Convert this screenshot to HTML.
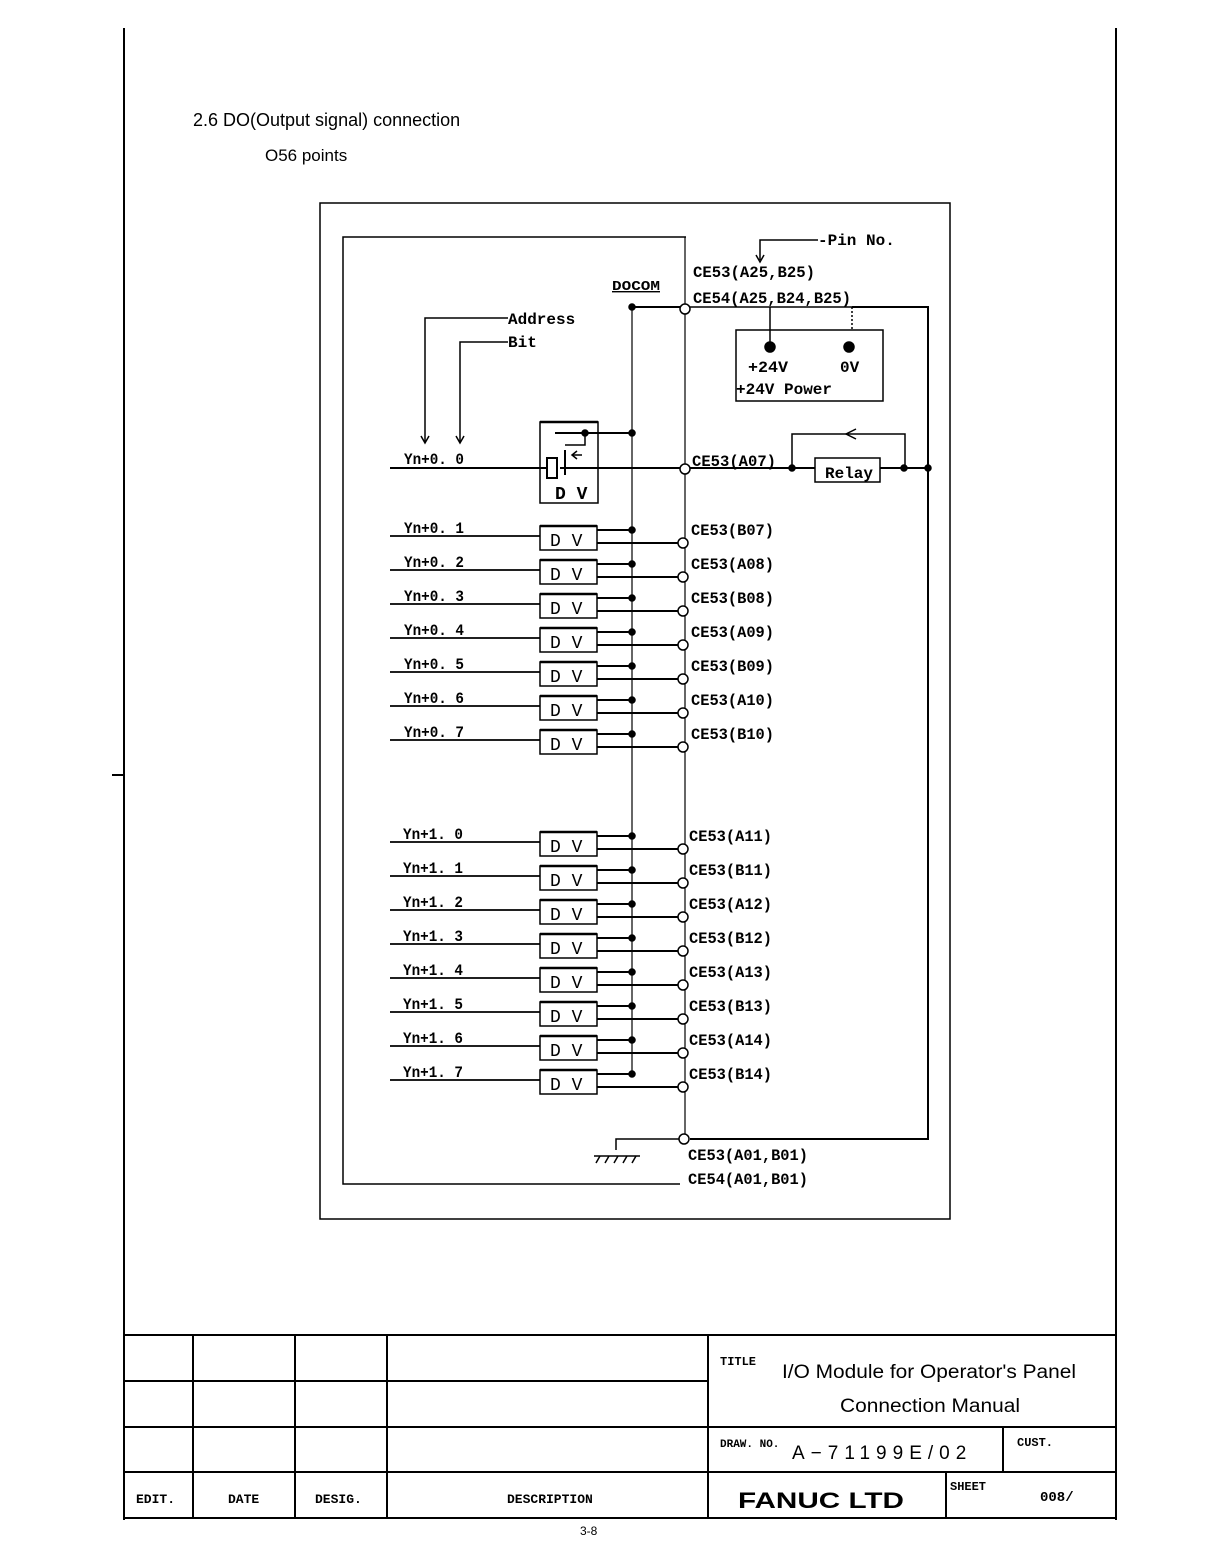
<!DOCTYPE html>
<html><head><meta charset="utf-8"><style>
html,body{margin:0;padding:0;background:#fff;}
svg{display:block;}
text{font-family:"Liberation Mono",monospace;fill:#000;}
.s{font-family:"Liberation Sans",sans-serif;}
.b{font-weight:bold;}
</style></head><body>
<svg width="1224" height="1567" viewBox="0 0 1224 1567" stroke="#000" fill="none" stroke-width="1.5">
<line x1="124" y1="28" x2="124" y2="1520" stroke-width="2"/>
<line x1="1116" y1="28" x2="1116" y2="1520" stroke-width="2"/>
<line x1="112" y1="775" x2="124" y2="775" stroke-width="2"/>
<g stroke="none">
<text class="s" x="193" y="126" font-size="18">2.6 DO(Output signal) connection</text>
<text class="s" x="265" y="161" font-size="17">O56 points</text>
</g>
<rect x="320" y="203" width="630" height="1016" stroke-width="1.5"/>
<polyline points="686,237 343,237 343,1184 680,1184"/>
<line x1="685" y1="237" x2="685" y2="1140" stroke-width="1.2"/>
<line x1="632" y1="307" x2="632" y2="1074" stroke-width="1.2"/>
<line x1="632" y1="307" x2="680" y2="307" stroke-width="2"/>
<circle cx="632" cy="307" r="3" fill="#000"/>
<circle cx="685" cy="309" r="5" fill="#fff"/>
<line x1="690" y1="307" x2="852" y2="307"/>
<polyline points="852,307 928,307 928,1139 690,1139" stroke-width="2"/>
<line x1="852" y1="307" x2="852" y2="330" stroke-dasharray="2,2"/>
<rect x="736" y="330" width="147" height="71"/>
<line x1="770" y1="307" x2="770" y2="347"/>
<circle cx="770" cy="347" r="5" fill="#000"/>
<circle cx="849" cy="347" r="5" fill="#000"/>
<polyline points="818,240 760,240 760,260"/>
<polyline points="756,255 760,262 764,255"/>
<polyline points="508,318 425,318 425,442"/>
<polyline points="421,436 425,443 429,436"/>
<polyline points="508,342 460,342 460,442"/>
<polyline points="456,436 460,443 464,436"/>
<!-- Yn+0.0 row -->
<line x1="390" y1="468" x2="547" y2="468" stroke-width="2"/>
<rect x="540" y="422" width="58" height="81"/>
<line x1="540" y1="422" x2="598" y2="422" stroke-width="2.5"/>
<rect x="547" y="458" width="10" height="20" stroke-width="2"/>
<line x1="555" y1="433" x2="632" y2="433" stroke-width="2"/>
<circle cx="632" cy="433" r="3" fill="#000"/>
<circle cx="585" cy="433" r="3" fill="#000"/>
<polyline points="585,433 585,445 565,445"/>
<line x1="565" y1="450" x2="565" y2="475" stroke-width="2"/>
<line x1="572" y1="455" x2="582" y2="455"/>
<polyline points="577,451 572,455 577,459"/>
<line x1="560" y1="468" x2="680" y2="468" stroke-width="2"/>
<circle cx="685" cy="469" r="5" fill="#fff"/>
<line x1="690" y1="468" x2="928" y2="468" stroke-width="2"/>
<rect x="815" y="458" width="65" height="24" fill="#fff"/>
<circle cx="792" cy="468" r="3" fill="#000"/>
<circle cx="904" cy="468" r="3" fill="#000"/>
<circle cx="928" cy="468" r="3" fill="#000"/>
<polyline points="792,468 792,434 905,434 905,468"/>
<polyline points="856,429 846,434 856,439"/>
<g stroke="none" font-size="16" class="b">
<text x="818" y="245">-Pin No.</text>
<text x="693" y="277" textLength="122" lengthAdjust="spacingAndGlyphs">CE53(A25,B25)</text>
<text x="693" y="303" textLength="158" lengthAdjust="spacingAndGlyphs">CE54(A25,B24,B25)</text>
<text x="612" y="290" font-size="14" textLength="48" lengthAdjust="spacingAndGlyphs" text-decoration="underline">DOCOM</text>
<text x="508" y="324">Address</text>
<text x="508" y="347">Bit</text>
<text x="748" y="372" textLength="40" lengthAdjust="spacingAndGlyphs">+24V</text>
<text x="840" y="372">0V</text>
<text x="736" y="394" textLength="96" lengthAdjust="spacingAndGlyphs">+24V Power</text>
<text x="404" y="464" textLength="60" lengthAdjust="spacingAndGlyphs">Yn+0. 0</text>
<text x="692" y="466" textLength="84" lengthAdjust="spacingAndGlyphs">CE53(A07)</text>
<text x="825" y="478" textLength="48" lengthAdjust="spacingAndGlyphs">Relay</text>
<text x="555" y="499" font-size="18">D V</text>
</g>
<defs>
<g id="row">
<line x1="390" y1="8" x2="540" y2="8" stroke-width="1.8"/>
<rect x="540" y="-2" width="57" height="24" fill="#fff"/>
<line x1="540" y1="-2" x2="597" y2="-2" stroke-width="2.5"/>
<line x1="597" y1="2" x2="632" y2="2" stroke-width="2"/>
<circle cx="632" cy="2" r="3" fill="#000"/>
<line x1="597" y1="15" x2="678" y2="15" stroke-width="2"/>
<circle cx="683" cy="15" r="5" fill="#fff"/>
<text x="550" y="18" font-size="18" stroke="none">D V</text>
</g>
</defs>
<use href="#row" y="528"/><use href="#row" y="562"/><use href="#row" y="596"/><use href="#row" y="630"/>
<use href="#row" y="664"/><use href="#row" y="698"/><use href="#row" y="732"/>
<use href="#row" y="834"/><use href="#row" y="868"/><use href="#row" y="902"/><use href="#row" y="936"/>
<use href="#row" y="970"/><use href="#row" y="1004"/><use href="#row" y="1038"/><use href="#row" y="1072"/>
<g stroke="none" font-size="16" class="b">
<text x="404" y="533" textLength="60" lengthAdjust="spacingAndGlyphs">Yn+0. 1</text>
<text x="404" y="567" textLength="60" lengthAdjust="spacingAndGlyphs">Yn+0. 2</text>
<text x="404" y="601" textLength="60" lengthAdjust="spacingAndGlyphs">Yn+0. 3</text>
<text x="404" y="635" textLength="60" lengthAdjust="spacingAndGlyphs">Yn+0. 4</text>
<text x="404" y="669" textLength="60" lengthAdjust="spacingAndGlyphs">Yn+0. 5</text>
<text x="404" y="703" textLength="60" lengthAdjust="spacingAndGlyphs">Yn+0. 6</text>
<text x="404" y="737" textLength="60" lengthAdjust="spacingAndGlyphs">Yn+0. 7</text>
<text x="403" y="839" textLength="60" lengthAdjust="spacingAndGlyphs">Yn+1. 0</text>
<text x="403" y="873" textLength="60" lengthAdjust="spacingAndGlyphs">Yn+1. 1</text>
<text x="403" y="907" textLength="60" lengthAdjust="spacingAndGlyphs">Yn+1. 2</text>
<text x="403" y="941" textLength="60" lengthAdjust="spacingAndGlyphs">Yn+1. 3</text>
<text x="403" y="975" textLength="60" lengthAdjust="spacingAndGlyphs">Yn+1. 4</text>
<text x="403" y="1009" textLength="60" lengthAdjust="spacingAndGlyphs">Yn+1. 5</text>
<text x="403" y="1043" textLength="60" lengthAdjust="spacingAndGlyphs">Yn+1. 6</text>
<text x="403" y="1077" textLength="60" lengthAdjust="spacingAndGlyphs">Yn+1. 7</text>
<text x="691" y="535" textLength="83" lengthAdjust="spacingAndGlyphs">CE53(B07)</text>
<text x="691" y="569" textLength="83" lengthAdjust="spacingAndGlyphs">CE53(A08)</text>
<text x="691" y="603" textLength="83" lengthAdjust="spacingAndGlyphs">CE53(B08)</text>
<text x="691" y="637" textLength="83" lengthAdjust="spacingAndGlyphs">CE53(A09)</text>
<text x="691" y="671" textLength="83" lengthAdjust="spacingAndGlyphs">CE53(B09)</text>
<text x="691" y="705" textLength="83" lengthAdjust="spacingAndGlyphs">CE53(A10)</text>
<text x="691" y="739" textLength="83" lengthAdjust="spacingAndGlyphs">CE53(B10)</text>
<text x="689" y="841" textLength="83" lengthAdjust="spacingAndGlyphs">CE53(A11)</text>
<text x="689" y="875" textLength="83" lengthAdjust="spacingAndGlyphs">CE53(B11)</text>
<text x="689" y="909" textLength="83" lengthAdjust="spacingAndGlyphs">CE53(A12)</text>
<text x="689" y="943" textLength="83" lengthAdjust="spacingAndGlyphs">CE53(B12)</text>
<text x="689" y="977" textLength="83" lengthAdjust="spacingAndGlyphs">CE53(A13)</text>
<text x="689" y="1011" textLength="83" lengthAdjust="spacingAndGlyphs">CE53(B13)</text>
<text x="689" y="1045" textLength="83" lengthAdjust="spacingAndGlyphs">CE53(A14)</text>
<text x="689" y="1079" textLength="83" lengthAdjust="spacingAndGlyphs">CE53(B14)</text>
<text x="688" y="1160" textLength="120" lengthAdjust="spacingAndGlyphs">CE53(A01,B01)</text>
<text x="688" y="1184" textLength="120" lengthAdjust="spacingAndGlyphs">CE54(A01,B01)</text>
</g>
<polyline points="680,1139 616,1139 616,1150"/>
<line x1="594" y1="1156" x2="640" y2="1156"/>
<path d="M596,1163 L600,1156 M605,1163 L609,1156 M614,1163 L618,1156 M623,1163 L627,1156 M632,1163 L636,1156"/>
<circle cx="684" cy="1139" r="5" fill="#fff"/>
<g stroke-width="2">
<line x1="124" y1="1335" x2="1116" y2="1335"/>
<line x1="124" y1="1518" x2="1116" y2="1518"/>
<line x1="124" y1="1381" x2="708" y2="1381"/>
<line x1="124" y1="1427" x2="1116" y2="1427"/>
<line x1="124" y1="1472" x2="1116" y2="1472"/>
<line x1="193" y1="1335" x2="193" y2="1518"/>
<line x1="295" y1="1335" x2="295" y2="1518"/>
<line x1="387" y1="1335" x2="387" y2="1518"/>
<line x1="708" y1="1335" x2="708" y2="1518"/>
<line x1="1003" y1="1427" x2="1003" y2="1472"/>
<line x1="946" y1="1472" x2="946" y2="1518"/>
</g>
<g stroke="none">
<text class="b" x="136" y="1503" font-size="13">EDIT.</text>
<text class="b" x="228" y="1503" font-size="13">DATE</text>
<text class="b" x="315" y="1503" font-size="13">DESIG.</text>
<text class="b" x="507" y="1503" font-size="13">DESCRIPTION</text>
<text class="b" x="720" y="1365" font-size="12">TITLE</text>
<text class="s" x="782" y="1378" font-size="19" textLength="294" lengthAdjust="spacingAndGlyphs">I/O Module for Operator's Panel</text>
<text class="s" x="840" y="1412" font-size="19" textLength="180" lengthAdjust="spacingAndGlyphs">Connection Manual</text>
<text class="b" x="720" y="1447" font-size="11">DRAW. NO.</text>
<text class="s" x="792" y="1459" font-size="19" letter-spacing="6">A−71199E/02</text>
<text class="b" x="1017" y="1446" font-size="12">CUST.</text>
<text class="s" x="738" y="1508" font-size="22" font-weight="bold" textLength="166" lengthAdjust="spacingAndGlyphs">FANUC LTD</text>
<text class="b" x="950" y="1490" font-size="12">SHEET</text>
<text class="b" x="1040" y="1501" font-size="14">008/</text>
<text class="s" x="580" y="1535" font-size="12">3-8</text>
</g>
</svg>
</body></html>
